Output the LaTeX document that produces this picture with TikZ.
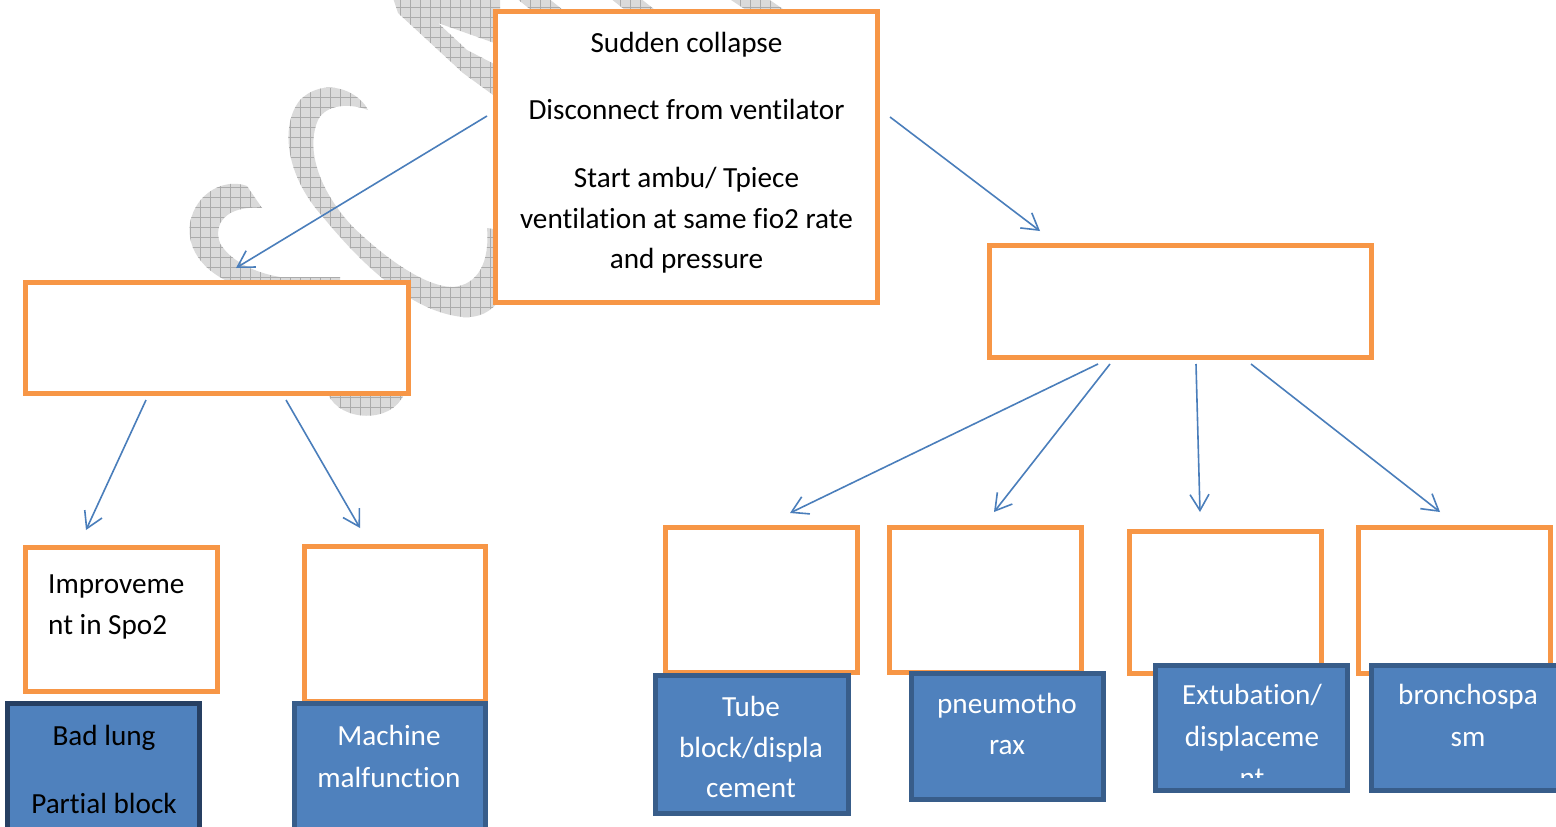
\documentclass[tikz,border=0pt]{standalone}
\usepackage{fontspec}
\setmainfont{Carlito}[Ligatures={NoCommon}]
\usetikzlibrary{arrows.meta,patterns.meta}

\definecolor{orangeC}{HTML}{F79646}
\definecolor{blueF}{HTML}{4F81BD}
\definecolor{blueB}{HTML}{385D8A}
\definecolor{navyB}{HTML}{263F62}
\definecolor{arrowC}{HTML}{4A7EBB}
\definecolor{wmbase}{HTML}{DADADA}
\definecolor{wmgrid}{HTML}{ABABAB}

\newcommand\dgfont{\fontsize{29.2pt}{41pt}\selectfont}

\tikzset{
  obox/.style={rectangle, draw=orangeC, line width=5pt, fill=white, inner sep=0pt},
  bluebox/.style={rectangle, draw=blueB, line width=5pt, fill=blueF, inner sep=0pt},
  conn/.style={draw=arrowC, line width=1.6pt, -{Straight Barb[length=16pt,width=19pt]}},
  txt/.style={font=\dgfont, anchor=base, inner sep=0pt, text=black},
  wtxt/.style={txt, text=white},
  wm/.style={preaction={fill=wmbase}, pattern={Hatch[distance=10pt,angle=0,line width=0.7pt]}, pattern color=wmgrid}
}

\begin{document}
\begin{tikzpicture}[x=1pt,y=-1pt]
\clip (0,0) rectangle (1556,827);
\fill[white] (0,0) rectangle (1556,827);

% background watermark strokes
\path[wm] (247,186) .. controls (225,178) and (196,192) .. (190,223)
  .. controls (186,250) and (205,276) .. (245,288) -- (340,300) -- (340,277) -- (280,277)
  .. controls (250,272) and (228,258) .. (220,243)
  .. controls (213,225) and (225,205) .. (262,208) -- cycle;
\path[wm] (365,105) .. controls (350,86) and (320,80) .. (300,100)
  .. controls (280,125) and (285,175) .. (323,217)
  .. controls (360,262) and (410,312) .. (463,317)
  .. controls (480,318) and (490,312) .. (500,300) -- (500,230) -- (487,228)
  .. controls (490,262) and (478,285) .. (453,287)
  .. controls (425,287) and (385,258) .. (353,227)
  .. controls (320,192) and (305,150) .. (318,120)
  .. controls (326,104) and (350,103) .. (368,110) -- cycle;
\path[wm] (393,-2) -- (398,13) -- (463,73) -- (500,100) -- (500,67) -- (467,50)
  -- (438,23) -- (500,45) -- (500,-2) -- cycle;
\path[wm] (516,-2) -- (548,-2) -- (568,14) -- (536,14) -- cycle;
\path[wm] (610,-2) -- (640,-2) -- (660,14) -- (630,14) -- cycle;
\path[wm] (728,-2) -- (767,-2) -- (790,14) -- (752,14) -- cycle;
\path[wm] (328,394) .. controls (340,422) and (392,424) .. (404,394) -- cycle;

% top row
\node[obox, minimum width=382pt, minimum height=291pt] (start) at (686.5,157) {};
\node[txt] (s1) at (686.5,52) {Sudden collapse};
\node[txt] (s2) at (686.5,119) {Disconnect from ventilator};
\node[txt] (s3) at (686.5,187) {Start ambu/ Tpiece};
\node[txt] (s4) at (686.5,228) {ventilation at same fio2 rate};
\node[txt] (s5) at (686.5,268) {and pressure};

% second row
\node[obox, minimum width=383pt, minimum height=111pt] (leftmid) at (217,338) {};
\node[obox, minimum width=382pt, minimum height=112pt] (rightmid) at (1180.5,301.5) {};

% left branch outcomes
\node[obox, minimum width=192pt, minimum height=144pt] (improve) at (121.5,619.5) {};
\node[txt, anchor=base west] (i1) at (48,593) {Improveme};
\node[txt, anchor=base west] (i2) at (48,634) {nt in Spo2};
\node[obox, minimum width=181pt, minimum height=155pt] (machbox) at (395,624) {};

\node[bluebox, draw=navyB, minimum width=192pt, minimum height=140pt] (badlung) at (103.5,773) {};
\node[txt] (b1) at (104,745) {Bad lung};
\node[txt] (b2) at (104,813) {Partial block};
\node[bluebox, minimum width=191pt, minimum height=140pt] (machine) at (390,773) {};
\node[wtxt] (m1) at (389,745) {Machine};
\node[wtxt] (m2) at (389,787) {malfunction};

% right branch outcomes
\node[obox, minimum width=192pt, minimum height=145pt] (o1) at (761.5,600) {};
\node[obox, minimum width=192pt, minimum height=145pt] (o2) at (985.5,600) {};
\node[obox, minimum width=192pt, minimum height=142pt] (o3) at (1225.5,602.5) {};
\node[obox, minimum width=192pt, minimum height=146pt] (o4) at (1454.5,600.5) {};

\node[bluebox, minimum width=193pt, minimum height=138pt] (tube) at (752,744.5) {};
\node[wtxt] (t1) at (751,716) {Tube};
\node[wtxt] (t2) at (751,757) {block/displa};
\node[wtxt] (t3) at (751,797) {cement};

\node[bluebox, minimum width=192pt, minimum height=126pt] (pneumo) at (1007.5,736.5) {};
\node[wtxt] (p1) at (1007,713) {pneumotho};
\node[wtxt] (p2) at (1007,754) {rax};

\node[bluebox, minimum width=192pt, minimum height=125pt] (extub) at (1251.5,728) {};
\node[wtxt] (e1) at (1252,704) {Extubation/};
\node[wtxt] (e2) at (1252,746) {displaceme};
\begin{scope}
  \clip (1160,760) rectangle (1345,777);
  \node[wtxt] (e3) at (1252,787) {nt};
\end{scope}

\node[bluebox, minimum width=192pt, minimum height=125pt] (broncho) at (1467.5,728) {};
\node[wtxt] (r1) at (1468,704) {bronchospa};
\node[wtxt] (r2) at (1468,746) {sm};

% connector end points
\coordinate (startL) at (487,116);
\coordinate (startR) at (890,117);
\coordinate (leftmidIn) at (236,268);
\coordinate (rightmidIn) at (1040,231);
\coordinate (lmA) at (146,400);
\coordinate (lmB) at (286,400);
\coordinate (improveIn) at (86,530);
\coordinate (machIn) at (360,528);
\coordinate (rmA) at (1098,364);
\coordinate (rmB) at (1110,364);
\coordinate (rmC) at (1196,364);
\coordinate (rmD) at (1251,364);
\coordinate (o1In) at (790,513);
\coordinate (o2In) at (994,512);
\coordinate (o3In) at (1200,512);
\coordinate (o4In) at (1440,512);

\draw[conn] (startL) -- (leftmidIn);
\draw[conn] (startR) -- (rightmidIn);
\draw[conn] (lmA) -- (improveIn);
\draw[conn] (lmB) -- (machIn);
\draw[conn] (rmA) -- (o1In);
\draw[conn] (rmB) -- (o2In);
\draw[conn] (rmC) -- (o3In);
\draw[conn] (rmD) -- (o4In);
\end{tikzpicture}
\end{document}
